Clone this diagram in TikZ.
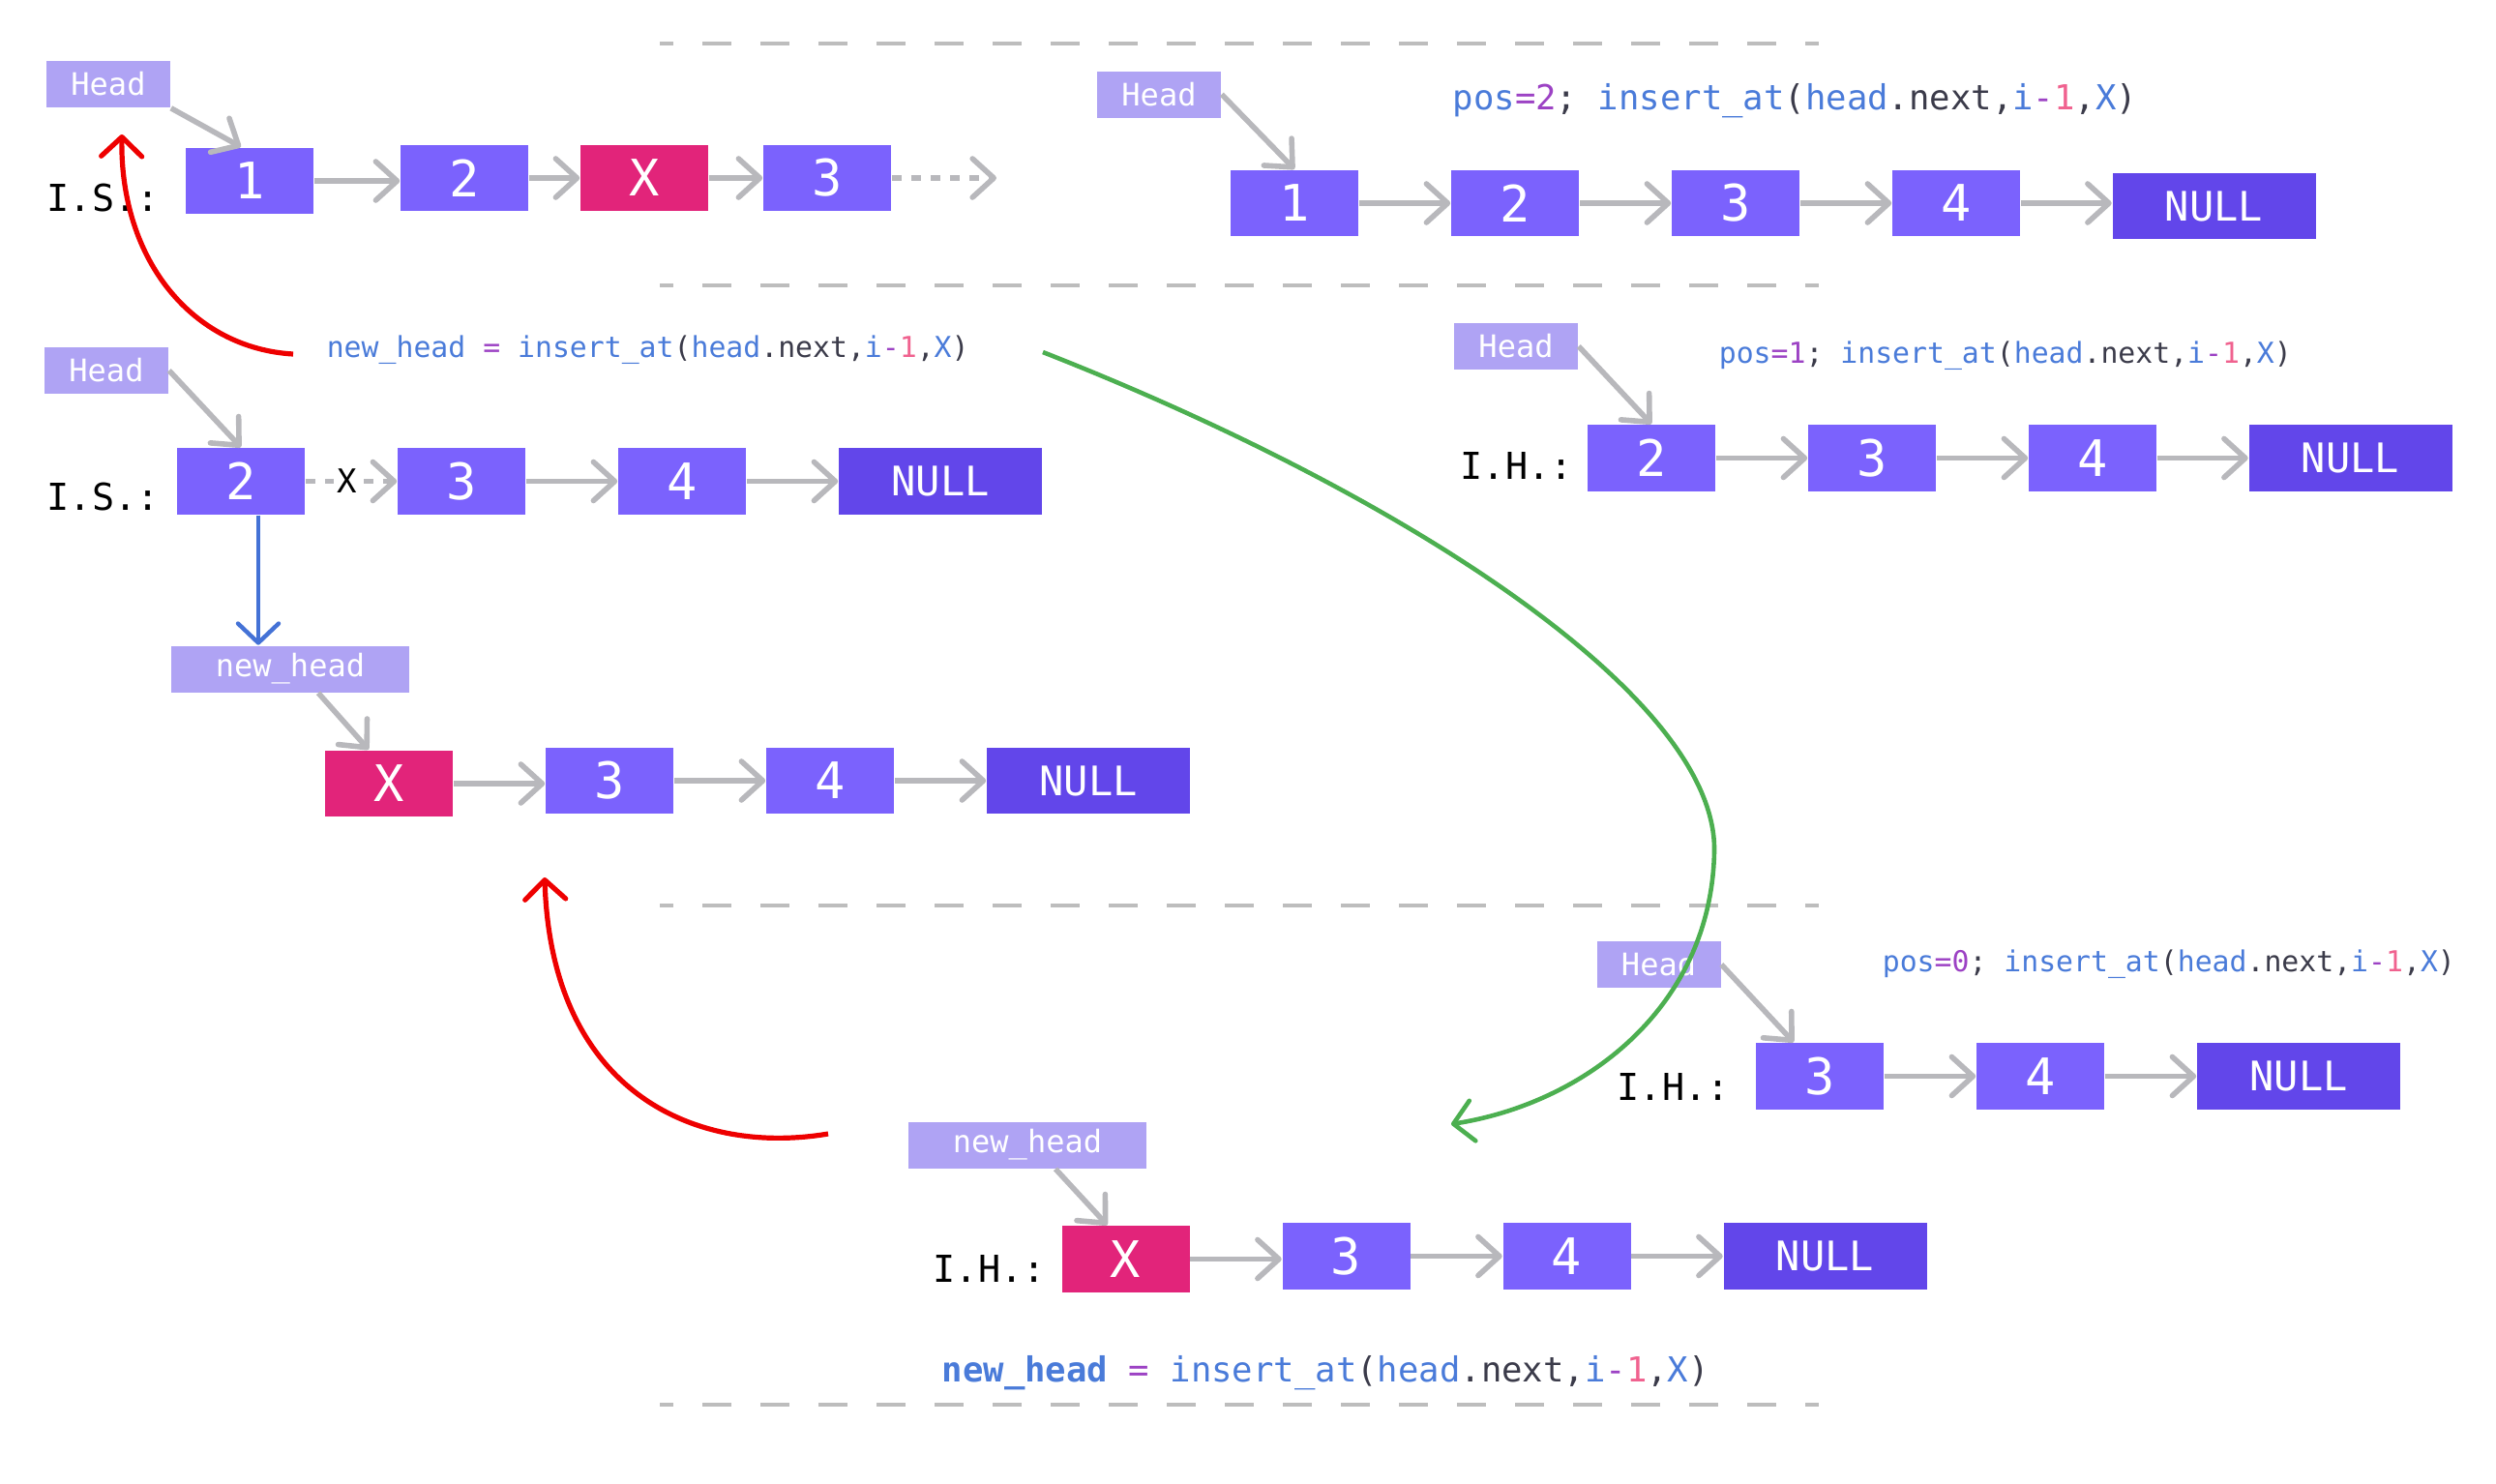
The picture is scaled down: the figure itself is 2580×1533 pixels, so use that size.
\documentclass[tikz,border=0pt]{standalone}
\usepackage{fontspec}
\newfontfamily\monofont{DejaVu Sans Mono}
\usetikzlibrary{arrows.meta,calc}

\definecolor{cellfill}{HTML}{7B62FD}
\definecolor{nullfill}{HTML}{6246EA}
\definecolor{newfill}{HTML}{E2247A}
\definecolor{ptrfill}{HTML}{AFA3F4}
\definecolor{linkgray}{HTML}{B8B8BC}
\definecolor{rulegray}{HTML}{BDBDBD}
\definecolor{kwblue}{HTML}{4A7BD9}
\definecolor{oppurple}{HTML}{9C42C4}
\definecolor{numpink}{HTML}{F0628F}
\definecolor{plaindark}{HTML}{3B3B4A}
\definecolor{callred}{HTML}{EE0000}
\definecolor{recgreen}{HTML}{4CAF50}
\definecolor{assignblue}{HTML}{4472D6}

% the recursive call, syntax coloured
\newcommand\callexpr{\textcolor{kwblue}{insert\_at}\textcolor{plaindark}{(}\textcolor{kwblue}{head}\textcolor{plaindark}{.next,}\textcolor{kwblue}{i}\textcolor{oppurple}{-}\textcolor{numpink}{1}\textcolor{plaindark}{,}\textcolor{kwblue}{X}\textcolor{plaindark}{)}}
\newcommand\posexpr[1]{\textcolor{kwblue}{pos}\textcolor{oppurple}{=#1}\textcolor{plaindark}{;} \callexpr}

\begin{document}
\begin{tikzpicture}[x=0.25pt,y=-0.25pt,
  cell/.style={rectangle, fill=cellfill, text=white, inner sep=0pt,
    minimum width=33pt, minimum height=17.2pt,
    font=\monofont\fontsize{13pt}{13pt}\selectfont},
  nullcell/.style={cell, fill=nullfill, minimum width=52.5pt,
    font=\monofont\fontsize{10.5pt}{10.5pt}\selectfont},
  newcell/.style={cell, fill=newfill},
  ptrbox/.style={rectangle, fill=ptrfill, text=white, inner sep=0pt,
    minimum width=32pt, minimum height=12pt,
    font=\monofont\fontsize{8pt}{8pt}\selectfont},
  nhbox/.style={ptrbox, minimum width=61.5pt},
  tag/.style={anchor=base west, inner sep=0pt, text=black,
    font=\monofont\fontsize{9.6pt}{9.6pt}\selectfont},
  code/.style={anchor=base west, inner sep=0pt,
    font=\monofont\fontsize{7.45pt}{7.45pt}\selectfont},
  bigcode/.style={code, font=\monofont\fontsize{8.9pt}{8.9pt}\selectfont},
  link/.style={draw=linkgray, line width=1.4pt,
    -{Straight Barb[length=5.5pt,width=10pt,round]}},
  dotlink/.style={link, dash pattern=on 2.6pt off 2.4pt},
  rule/.style={draw=rulegray, line width=0.9pt,
    dash pattern=on 7.5pt off 7.5pt, dash phase=4pt},
  flow/.style={line width=1.3pt,
    -{Straight Barb[length=5pt,width=10.5pt,round]}}
]
\useasboundingbox (0,0) rectangle (2580,1533);

% section rules
\draw[rule] (682,45) -- (1880,45);
\draw[rule] (682,295) -- (1880,295);
\draw[rule] (682,936) -- (1880,936);
\draw[rule] (682,1452) -- (1880,1452);

% ---- I.S. with X inserted at position 2
\node[ptrbox] (hd1) at (112,87) {Head};
\node[tag] (is1) at (48,218) {I.S.:};
\node[cell] (b1) at (258,187) {1};
\node[cell] (b2) at (480,184) {2};
\node[newcell] (bX) at (666,184) {X};
\node[cell] (b3) at (855,184) {3};
\coordinate (bmore) at (1030,184);
\draw[link] (hd1.south east) -- ($(b1.north)+(-9,0)$);
\draw[link] (b1.east) -- (b1.east -| b2.west);
\draw[link] (b2.east) -- (b2.east -| bX.west);
\draw[link] (bX.east) -- (bX.east -| b3.west);
\draw[dotlink] (b3.east) -- (bmore);

% ---- pos=2 call
\node[ptrbox] (hd2) at (1198,97.5) {Head};
\node[bigcode] (code1) at (1501,113) {\posexpr{2}};
\node[cell] (c1) at (1338,210) {1};
\node[cell] (c2) at (1566,210) {2};
\node[cell] (c3) at (1794,210) {3};
\node[cell] (c4) at (2022,210) {4};
\node[nullcell] (cN) at (2288.5,213) {NULL};
\draw[link] (hd2.east) -- (c1.north);
\draw[link] (c1.east) -- (c1.east -| c2.west);
\draw[link] (c2.east) -- (c2.east -| c3.west);
\draw[link] (c3.east) -- (c3.east -| c4.west);
\draw[link] (c4.east) -- (c4.east -| cN.west);

% ---- I.S. in the call at position 1
\node[code] (code2) at (337,369) {\textcolor{kwblue}{new\_head} \textcolor{oppurple}{=} \callexpr};
\node[ptrbox] (hd3) at (110,383) {Head};
\node[tag] (is2) at (48,527) {I.S.:};
\node[cell] (d2) at (249,497.5) {2};
\node[cell] (d3) at (477,497.5) {3};
\node[cell] (d4) at (705,497.5) {4};
\node[nullcell] (dN) at (972,497.5) {NULL};
\draw[link] (hd3.east) -- (d2.north);
\draw[dotlink] (d2.east) -- node[pos=0.45, fill=white, inner sep=0.8pt, text=black,
  font=\monofont\fontsize{8.5pt}{8.5pt}\selectfont] (cut) {X} (d2.east -| d3.west);
\draw[link] (d3.east) -- (d3.east -| d4.west);
\draw[link] (d4.east) -- (d4.east -| dN.west);

\node[nhbox] (nh1) at (300,691.5) {new\_head};
\node[newcell] (eX) at (402,810) {X};
\node[cell] (e3) at (630,807) {3};
\node[cell] (e4) at (858,807) {4};
\node[nullcell] (eN) at (1125,807) {NULL};
\coordinate (bt) at ($(d2.south)+(18,0)$);
\draw[flow, assignblue, line width=1.1pt] (bt) -- (bt |- nh1.north);
\draw[link] ($(nh1.south)+(29,0)$) -- ($(eX.north)+(-21,0)$);
\draw[link] (eX.east) -- (eX.east -| e3.west);
\draw[link] (e3.east) -- (e3.east -| e4.west);
\draw[link] (e4.east) -- (e4.east -| eN.west);

% ---- pos=1 call
\node[ptrbox] (hd4) at (1567,358) {Head};
\node[code] (code3) at (1776,375) {\posexpr{1}};
\node[tag] (ih1) at (1509,495) {I.H.:};
\node[cell] (f2) at (1707,473.5) {2};
\node[cell] (f3) at (1935,473.5) {3};
\node[cell] (f4) at (2163,473.5) {4};
\node[nullcell] (fN) at (2429.5,473.5) {NULL};
\draw[link] (hd4.east) -- (f2.north);
\draw[link] (f2.east) -- (f2.east -| f3.west);
\draw[link] (f3.east) -- (f3.east -| f4.west);
\draw[link] (f4.east) -- (f4.east -| fN.west);

% ---- pos=0 call
\node[ptrbox] (hd5) at (1714.5,997) {Head};
\node[code] (code4) at (1945,1004) {\posexpr{0}};
\node[tag] (ih2) at (1671,1137) {I.H.:};
\node[cell] (g3) at (1881,1112.5) {3};
\node[cell] (g4) at (2109,1112.5) {4};
\node[nullcell] (gN) at (2376,1112.5) {NULL};
\draw[link] (hd5.east) -- ($(g3.north)+(-27,0)$);
\draw[link] (g3.east) -- (g3.east -| g4.west);
\draw[link] (g4.east) -- (g4.east -| gN.west);

% ---- result of the base case
\node[nhbox] (nh2) at (1062,1183.5) {new\_head};
\node[tag] (ih3) at (964,1325) {I.H.:};
\node[newcell] (hX) at (1163.5,1301.5) {X};
\node[cell] (h3) at (1391.5,1298.5) {3};
\node[cell] (h4) at (1619.5,1298.5) {4};
\node[nullcell] (hN) at (1886.5,1298.5) {NULL};
\node[bigcode] (code5) at (973,1428) {\textcolor{kwblue}{\bfseries new\_head} \textcolor{oppurple}{=} \callexpr};
\draw[link] ($(nh2.south)+(29,0)$) -- ($(hX.north)+(-19,0)$);
\draw[link] (hX.east) -- (hX.east -| h3.west);
\draw[link] (h3.east) -- (h3.east -| h4.west);
\draw[link] (h4.east) -- (h4.east -| hN.west);

% ---- call / return curves
\coordinate (r1s) at (303,366);
\coordinate (r1e) at (126,139);
\coordinate (r2s) at (856,1172);
\coordinate (r2e) at (563,907);
\coordinate (gs) at (1078,364);
\coordinate (ge) at (1500,1162);
\draw[flow, callred] (r1s) .. controls (200,360) and (124,270) .. (r1e);
\draw[flow, callred] (r2s) .. controls (720,1195) and (570,1130) .. (r2e);
\draw[flow, recgreen, line width=1.15pt] (gs) .. controls (1450,510) and (1775,720) .. (1772,880)
  .. controls (1769,1040) and (1640,1140) .. (ge);
\end{tikzpicture}
\end{document}
